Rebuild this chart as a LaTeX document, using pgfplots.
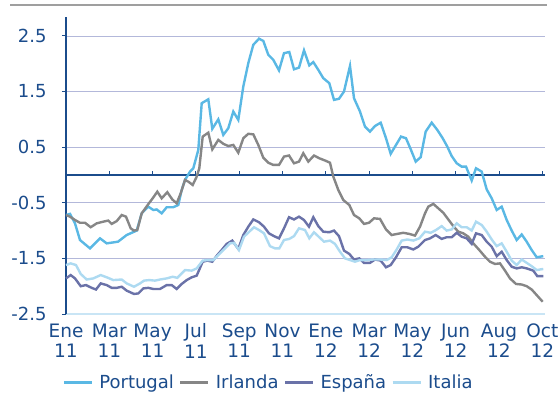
\documentclass[border=0pt]{standalone}
\usepackage{fontspec}
\setmainfont{DejaVu Sans}
\usepackage{pgfplots}
\pgfplotsset{compat=1.18}
\definecolor{navy}{HTML}{1B4C8C}
\definecolor{gridc}{HTML}{B3B8DA}
\definecolor{baseblue}{HTML}{C9E5F5}
\definecolor{portugal}{HTML}{5AB8E4}
\definecolor{irlanda}{HTML}{868686}
\definecolor{espana}{HTML}{6A72A8}
\definecolor{italia}{HTML}{ADDAF1}

\begin{document}
\begin{tikzpicture}
\useasboundingbox (0pt,0pt) rectangle (560pt,400pt);
\draw[draw=gray!75, line width=2pt] (10pt,395pt) -- (547pt,395pt);
\begin{axis}[
    at={(66pt,86pt)}, anchor=south west,
    width=479pt, height=297pt, scale only axis,
    xmin=66, xmax=545, ymin=-2.5, ymax=2.84,
    axis x line*=bottom, axis y line*=left,
    x axis line style={-, draw=baseblue, line width=2.2pt},
    y axis line style={-, draw=navy, line width=2pt},
    xtick={66,109.3,152.6,195.9,239.2,282.5,325.8,369.1,412.4,455.7,499,542.3},
    xticklabels={Ene\\11,Mar\\11,May\\11,Jul\\11,Sep\\11,Nov\\11,Ene\\12,Mar\\12,May\\12,Jun\\12,Aug\\12,Oct\\12},
    x tick style={draw=none},
    xticklabel style={align=center, text=navy, font=\fontsize{18.5}{20.5}\selectfont, yshift=-2pt},
    ytick={-2.5,-1.5,-0.5,0.5,1.5,2.5},
    yticklabels={-2.5,-1.5,-0.5,0.5,1.5,2.5},
    y tick style={draw=navy, line width=1pt},
    tick align=outside, major tick length=4pt,
    yticklabel style={text=navy, font=\fontsize{18}{21}\selectfont, xshift=-12pt},
    ymajorgrids, grid style={draw=gridc, line width=0.8pt},
    legend columns=4,
    legend style={draw=none, fill=none, inner sep=0pt, at={(-0.008,-0.23)}, anchor=west,
        font=\fontsize{18}{21}\selectfont, text=navy,
        /tikz/every odd column/.append style={column sep=4pt},
        /tikz/every even column/.append style={column sep=3pt}},
    legend image code/.code={\draw[#1, line width=3pt] (0pt,0pt) -- (28pt,0pt);},
    clip=false,
]
\draw[navy, line width=2pt] (axis cs:66,0) -- (axis cs:545,0);
\pgfplotsinvokeforeach{109.3,152.6,195.9,239.2,282.5,325.8,369.1,412.4,455.7,499,542.3}{
    \draw[navy, line width=1pt] (axis cs:#1,0) -- ++(0pt,4pt);
}
\addplot[portugal, line width=2.4pt] coordinates {
(66,-0.72)(70,-0.70)(75,-0.87)(80,-1.17)(90,-1.32)(100,-1.14)(106.7,-1.23)(118,-1.20)(126.7,-1.08)(136.7,-1.0)
(141.7,-0.69)(148.3,-0.57)(153.3,-0.63)(156.7,-0.62)(161.7,-0.69)(166.7,-0.58)(173.3,-0.58)(178.3,-0.54)(181.7,-0.27)(185,-0.09)
(190,0.06)(193.3,0.12)(198.3,0.45)(201.7,1.29)(208.3,1.36)(212.3,0.83)(218.3,1.0)(223.3,0.72)(228.3,0.84)(233.3,1.14)
(238.3,0.99)(243.3,1.59)(248.3,2.01)(253.3,2.34)(259,2.45)(263.3,2.41)(268.3,2.16)(273.3,2.07)(279,1.88)(284,2.19)
(289.3,2.21)(294,1.90)(299,1.93)(304,2.24)(309.3,1.97)(313.3,2.03)(318.3,1.89)(323.3,1.74)(329.3,1.65)(334,1.35)
(339,1.37)(344,1.5)(350,1.96)(354,1.38)(360,1.14)(365,0.87)(370,0.78)(375,0.88)(380.7,0.94)(386,0.66)
(390.7,0.38)(396,0.54)(401,0.69)(406,0.66)(411,0.45)(415.7,0.24)(420.7,0.32)(425.7,0.78)(431.7,0.94)(437.3,0.81)
(442.7,0.66)(447.3,0.51)(451.7,0.34)(456.7,0.21)(461.7,0.15)(466,0.15)(471.7,-0.10)(476,0.12)(481.7,0.06)(486.7,-0.26)
(491.7,-0.42)(496.7,-0.63)(501.7,-0.57)(506.7,-0.81)(511.7,-1.0)(516.7,-1.17)(521.7,-1.07)(526.7,-1.20)(531.7,-1.35)(536.7,-1.48)
(543.3,-1.46)};
\addlegendentry{Portugal}
\addplot[irlanda, line width=2.4pt] coordinates {
(66,-0.72)(70,-0.75)(75,-0.81)(80,-0.86)(85,-0.86)(90.7,-0.94)(96.7,-0.87)(103.3,-0.84)(108.3,-0.82)(111.7,-0.88)
(116.7,-0.83)(121.7,-0.72)(126,-0.75)(130.7,-0.96)(134,-1.0)(137.3,-0.99)(141.7,-0.69)(149.3,-0.50)(152.7,-0.42)(157.3,-0.30)
(161.7,-0.42)(167.3,-0.31)(172.3,-0.44)(176.7,-0.51)(180.7,-0.33)(185,-0.09)(188.3,-0.12)(192.7,-0.18)(196.7,-0.03)(199.3,0.12)
(202.7,0.69)(208.3,0.76)(212.3,0.46)(218.3,0.63)(223.3,0.56)(228.3,0.52)(233.3,0.54)(238.3,0.40)(243.3,0.66)(248.3,0.74)
(253.3,0.73)(258.3,0.54)(263.3,0.31)(268.3,0.22)(273.3,0.18)(279,0.18)(284,0.33)(289,0.35)(294,0.21)(299,0.24)
(303.3,0.39)(308.3,0.24)(314,0.35)(319.3,0.30)(325,0.26)(330,0.22)(333.3,-0.03)(338.3,-0.27)(343.3,-0.45)(349.3,-0.54)
(354,-0.72)(359.3,-0.78)(364,-0.88)(369,-0.86)(374,-0.78)(380,-0.79)(386,-0.98)(391.7,-1.08)(397.3,-1.06)(403.3,-1.04)
(409.3,-1.06)(415,-1.09)(420,-0.93)(425,-0.69)(428.3,-0.57)(433.3,-0.52)(438.3,-0.60)(443.3,-0.68)(448.3,-0.80)(453.3,-0.92)
(458.3,-1.02)(463.3,-1.05)(468.3,-1.11)(473.3,-1.23)(479.3,-1.35)(485,-1.47)(490,-1.56)(495,-1.60)(500,-1.59)(505,-1.72)
(510,-1.86)(516,-1.96)(521.7,-1.97)(526.7,-2.0)(531.7,-2.06)(536.7,-2.16)(542.7,-2.28)};
\addlegendentry{Irlanda}
\addplot[espana, line width=2.4pt] coordinates {
(66,-1.86)(70.7,-1.80)(75,-1.86)(80.7,-2.0)(86,-1.98)(91.7,-2.03)(96,-2.06)(100.7,-1.95)(106.7,-1.98)(111.7,-2.03)
(116.7,-2.03)(121.7,-2.01)(126.7,-2.08)(134,-2.14)(138.3,-2.13)(143.3,-2.04)(148.3,-2.03)(153.3,-2.05)(160,-2.05)(166.7,-1.98)
(171.7,-1.98)(176.7,-2.05)(181.7,-1.96)(186.7,-1.89)(191.7,-1.84)(196.7,-1.81)(202.7,-1.56)(207.3,-1.54)(212.3,-1.56)(217.3,-1.44)
(221.7,-1.35)(226.7,-1.24)(232.3,-1.18)(238.3,-1.33)(243.3,-1.08)(248.3,-0.93)(253.3,-0.80)(259,-0.85)(264,-0.93)(269,-1.05)
(274,-1.10)(279,-1.14)(284,-0.96)(289,-0.76)(294,-0.80)(299,-0.75)(304,-0.81)(309,-0.93)(313.3,-0.76)(318.3,-0.92)
(323.3,-1.02)(329.3,-1.03)(334,-1.0)(339,-1.10)(344,-1.36)(349.3,-1.42)(354,-1.52)(359.3,-1.50)(364,-1.58)(370,-1.58)
(375,-1.52)(380.7,-1.54)(386,-1.66)(390.7,-1.62)(396,-1.48)(401.7,-1.30)(407.3,-1.30)(413.3,-1.34)(418.3,-1.29)(425,-1.17)
(430,-1.14)(435.7,-1.08)(441.7,-1.15)(446.7,-1.12)(451.7,-1.12)(456.7,-1.04)(461.7,-1.11)(466.7,-1.14)(471.7,-1.24)(476,-1.05)
(481.7,-1.08)(486.7,-1.20)(491.7,-1.29)(496.7,-1.46)(501.7,-1.38)(506.7,-1.53)(511.7,-1.65)(516.7,-1.68)(521.7,-1.66)(526.7,-1.68)
(533.3,-1.72)(537.3,-1.82)(543.3,-1.82)};
\addlegendentry{España}
\addplot[italia, line width=2.4pt] coordinates {
(66,-1.62)(70.7,-1.59)(76,-1.62)(80.7,-1.78)(86.7,-1.88)(93.3,-1.86)(100.7,-1.80)(106.7,-1.84)(113.3,-1.89)(121.7,-1.88)
(126.7,-1.95)(134,-2.01)(140,-1.95)(144,-1.90)(149.3,-1.89)(155,-1.90)(160,-1.88)(166.7,-1.86)(172.7,-1.83)(177.3,-1.85)
(181.7,-1.77)(185,-1.71)(191.7,-1.72)(196.7,-1.68)(202.7,-1.54)(208.3,-1.53)(213.3,-1.53)(218.3,-1.44)(223.3,-1.35)(230,-1.23)
(234,-1.22)(239,-1.35)(244,-1.11)(249.3,-1.02)(254,-0.94)(259,-0.99)(264,-1.05)(270,-1.28)(275,-1.32)(279.3,-1.32)
(284,-1.17)(289.3,-1.15)(294,-1.10)(299,-0.96)(305,-0.99)(309.3,-1.14)(314,-1.03)(319.3,-1.12)(324,-1.20)(330,-1.18)
(335,-1.24)(340,-1.38)(345,-1.50)(350,-1.53)(355,-1.56)(360,-1.53)(366.7,-1.53)(373.3,-1.52)(380,-1.52)(386.7,-1.53)
(391.7,-1.48)(396.7,-1.34)(401.7,-1.18)(407.3,-1.16)(413.3,-1.18)(419.3,-1.14)(425,-1.02)(430.7,-1.04)(436,-0.99)(441.7,-0.92)
(446.7,-1.0)(451.7,-0.98)(456.7,-0.87)(461.7,-0.94)(466.7,-0.94)(471.7,-1.0)(476,-0.84)(481.7,-0.90)(486.7,-1.02)(491.7,-1.16)
(496.7,-1.28)(501.7,-1.23)(506.7,-1.38)(511.7,-1.54)(516.7,-1.62)(521.7,-1.52)(526.7,-1.58)(531.7,-1.64)(536.7,-1.71)(543.3,-1.69)};
\addlegendentry{Italia}
\end{axis}
\end{tikzpicture}
\end{document}
